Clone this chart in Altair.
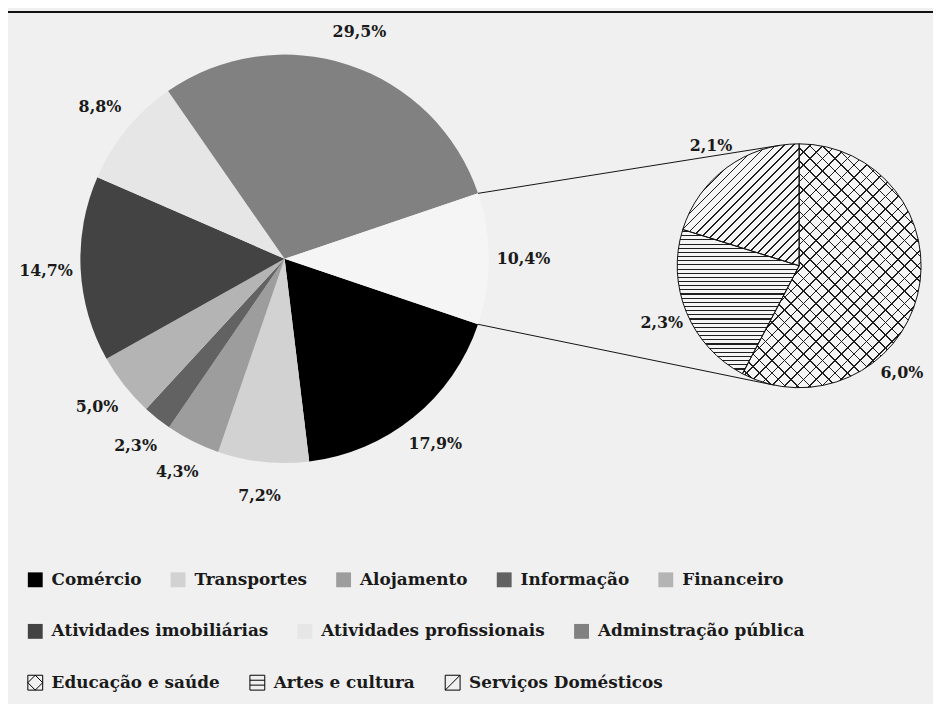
import math
import altair as alt
import pandas as pd

W, H = 933, 696
FONT = "DejaVu Serif"
TXT = "#1a1a1a"

# ---------------- data ----------------
main_sectors = ["Outros serviços", "Comércio", "Transportes", "Alojamento", "Informação",
                "Financeiro", "Atividades imobiliárias", "Atividades profissionais",
                "Adminstração pública"]
main_values = [10.4, 17.9, 7.2, 4.3, 2.3, 5.0, 14.7, 8.8, 29.5]
main_colors = ["#f5f5f5", "#000000", "#d2d2d2", "#9d9d9d", "#626262", "#b4b4b4",
               "#434343", "#e6e6e6", "#818181"]
legend_row1 = main_sectors[1:6]
legend_row2 = main_sectors[6:9]

sub_sectors = ["Educação e saúde", "Artes e cultura", "Serviços Domésticos"]
sub_values = [6.0, 2.3, 2.1]
sub_shapes = [
    "M-1,-1H1V1H-1Z M0,-1L1,0L0,1L-1,0Z",
    "M-1,-1H1V1H-1Z M-1,-0.33H1 M-1,0.33H1",
    "M-1,-1H1V1H-1Z M-1,1L1,-1",
]

# ---------------- geometry (style) ----------------
MCX, MCY, MR = 279, 250, 206
SCX, SCY, SR = 798, 257, 123
MAIN_LABEL_R = 241
SUB_LABEL_R = 150
TWO_PI = 2 * math.pi


def fmt(v):
    return f"{v:.1f}".replace(".", ",") + "%"


total = sum(main_values)
a0 = math.pi / 2 - math.pi * main_values[0] / total

main_df = pd.DataFrame({"sector": main_sectors, "value": main_values})
main_df["end"] = main_df["value"].cumsum()
main_df["start"] = main_df["end"] - main_df["value"]
main_df["mid"] = (main_df["start"] + main_df["end"]) / 2
main_df["label"] = main_df["value"].map(fmt)

sub_total = sum(sub_values)
sub_df = pd.DataFrame({"sector": sub_sectors, "value": sub_values})
sub_df["end"] = sub_df["value"].cumsum()
sub_df["start"] = sub_df["end"] - sub_df["value"]
sub_df["mid"] = (sub_df["start"] + sub_df["end"]) / 2
sub_df["label"] = sub_df["value"].map(fmt)


def sub_ang(t):
    return TWO_PI * t / sub_total


# label angle: mid angle, moved along the slice if the label would leave the chart
xmax = W - 31
lab_t = []
for s, e, m in zip(sub_df["start"], sub_df["end"], sub_df["mid"]):
    t = m
    for i in range(401):
        tt = m + (e - m) * i / 400
        if SCX + SUB_LABEL_R * math.sin(sub_ang(tt)) <= xmax:
            t = tt
            break
    lab_t.append(t)
sub_df["labpos"] = lab_t

theta_main = alt.Scale(domain=[0, total], range=[a0, a0 + TWO_PI])
theta_sub = alt.Scale(domain=[0, sub_total], range=[0, TWO_PI])


def sector_bbox(t1, t2, r):
    pts = [(0.0, 0.0), (r * math.sin(t1), -r * math.cos(t1)), (r * math.sin(t2), -r * math.cos(t2))]
    for c in [0, math.pi / 2, math.pi, 1.5 * math.pi, TWO_PI]:
        if t1 <= c <= t2:
            pts.append((r * math.sin(c), -r * math.cos(c)))
    xs = [p[0] for p in pts]
    ys = [p[1] for p in pts]
    return max(xs) - min(xs), max(ys) - min(ys)


def hatch(bbox, kind, spacing, lw, bg, fg="#1e1e1e"):
    w, h = bbox
    if kind == "h":
        x1, y1, x2, y2 = 0, 0, 0, 1
        L = h
    else:
        k = 1 / max(w, h)
        dx, dy = w * k, h * k
        if kind == "slash":
            x1, y1, x2, y2 = 0, 0, dx, dy
        else:
            x1, y1, x2, y2 = 0, 1, dx, 1 - dy
        L = k * (w * w + h * h) / math.sqrt(2)
    hw = lw / 2 / L
    stops = [alt.GradientStop(offset=0, color=bg)]
    p = spacing / 2
    while True:
        tc = p / L
        if tc + hw >= 1:
            break
        for off, col in [(tc - hw, bg), (tc - hw, fg), (tc + hw, fg), (tc + hw, bg)]:
            stops.append(alt.GradientStop(offset=round(off, 5), color=col))
        p += spacing
    stops.append(alt.GradientStop(offset=1, color=bg))
    return alt.LinearGradient(gradient="linear", stops=stops, x1=x1, y1=y1, x2=x2, y2=y2)


def legend(domain_len, ly, symbol=True):
    kw = dict(orient="none", legendX=19, legendY=ly, direction="horizontal",
              columns=domain_len, symbolSize=225, labelFont=FONT, labelFontSize=17,
              labelFontWeight="bold", labelColor=TXT, labelOffset=8, columnPadding=28,
              title=None, labelLimit=0, padding=0)
    if symbol:
        kw.update(symbolType="square", symbolStrokeWidth=0)
    else:
        kw.update(symbolStrokeWidth=1, symbolStrokeColor="black", symbolFillColor="transparent")
    return alt.Legend(**kw)


layers = []

# top rule
layers.append(alt.Chart(pd.DataFrame({"k": [0]})).mark_rule(color="#111111", strokeWidth=2).encode(
    x=alt.value(0), x2=alt.value(W), y=alt.value(1)))

# main pie
col1 = main_colors[1:6]
col2 = main_colors[6:9]
for subset, rng, ly in [(legend_row1, col1, 565), (legend_row2, col2, 617)]:
    layers.append(
        alt.Chart(main_df)
        .transform_filter(alt.FieldOneOfPredicate(field="sector", oneOf=subset))
        .mark_arc(outerRadius=MR)
        .encode(
            theta=alt.Theta("start:Q", scale=theta_main, stack=None),
            theta2="end:Q",
            color=alt.Color("sector:N", scale=alt.Scale(domain=subset, range=rng),
                            legend=legend(len(subset), ly)),
            x=alt.value(MCX), y=alt.value(MCY),
        )
    )
layers.append(
    alt.Chart(main_df)
    .transform_filter(alt.FieldEqualPredicate(field="sector", equal=main_sectors[0]))
    .mark_arc(outerRadius=MR, fill=main_colors[0])
    .encode(theta=alt.Theta("start:Q", scale=theta_main, stack=None), theta2="end:Q",
            x=alt.value(MCX), y=alt.value(MCY))
)
layers.append(
    alt.Chart(main_df)
    .mark_text(font=FONT, fontSize=16, fontWeight="bold", color=TXT)
    .encode(theta=alt.Theta("mid:Q", scale=theta_main, stack=None), radius=alt.value(MAIN_LABEL_R),
            text="label:N", x=alt.value(MCX), y=alt.value(MCY))
)

# legend 3 carrier (hidden under the small pie)
layers.append(
    alt.Chart(sub_df)
    .mark_point(filled=False, size=1, color="black", opacity=1, strokeWidth=1)
    .encode(x=alt.value(SCX), y=alt.value(SCY),
            shape=alt.Shape("sector:N", scale=alt.Scale(domain=sub_sectors, range=sub_shapes),
                            legend=legend(3, 669, symbol=False)))
)

# small pie base
layers.append(
    alt.Chart(sub_df).mark_arc(outerRadius=SR, fill="#f5f5f5")
    .encode(theta=alt.Theta("start:Q", scale=theta_sub, stack=None), theta2="end:Q",
            x=alt.value(SCX), y=alt.value(SCY))
)

# hatching
hatch_spec = {
    sub_sectors[0]: [("slash", 9.0), ("back", 9.0)],
    sub_sectors[1]: [("h", 4.2)],
    sub_sectors[2]: [("slash", 6.4)],
}
for sec, s, e in zip(sub_df["sector"], sub_df["start"], sub_df["end"]):
    bb = sector_bbox(sub_ang(s), sub_ang(e), SR)
    for kind, sp in hatch_spec[sec]:
        grad = hatch(bb, kind, sp, 1.1, "rgba(0,0,0,0)")
        layers.append(
            alt.Chart(sub_df)
            .transform_filter(alt.FieldEqualPredicate(field="sector", equal=sec))
            .mark_arc(outerRadius=SR, fill=grad)
            .encode(theta=alt.Theta("start:Q", scale=theta_sub, stack=None), theta2="end:Q",
                    x=alt.value(SCX), y=alt.value(SCY))
        )

# small pie outline
layers.append(
    alt.Chart(sub_df).mark_arc(outerRadius=SR, fillOpacity=0, stroke="#111111", strokeWidth=1)
    .encode(theta=alt.Theta("start:Q", scale=theta_sub, stack=None), theta2="end:Q",
            x=alt.value(SCX), y=alt.value(SCY))
)
layers.append(
    alt.Chart(sub_df)
    .mark_text(font=FONT, fontSize=16, fontWeight="bold", color=TXT)
    .encode(theta=alt.Theta("labpos:Q", scale=theta_sub, stack=None), radius=alt.value(SUB_LABEL_R),
            text="label:N", x=alt.value(SCX), y=alt.value(SCY))
)


# connector lines (tangents from the split slice edges to the small pie)
def tangent(px, py, upper):
    dx, dy = px - SCX, py - SCY
    d = math.hypot(dx, dy)
    ux, uy = dx / d, dy / d
    al = math.acos(SR / d)
    cands = []
    for sgn in (1, -1):
        ca, sa = math.cos(sgn * al), math.sin(sgn * al)
        cands.append((SCX + SR * (ux * ca - uy * sa), SCY + SR * (ux * sa + uy * ca)))
    return min(cands, key=lambda p: p[1]) if upper else max(cands, key=lambda p: p[1])


conn = []
for ang, upper in [(a0, True), (a0 + TWO_PI * main_values[0] / total, False)]:
    px, py = MCX + MR * math.sin(ang), MCY - MR * math.cos(ang)
    tx, ty = tangent(px, py, upper)
    conn.append({"x": px, "y": py, "x2": tx, "y2": ty})
conn_df = pd.DataFrame(conn)
layers.append(
    alt.Chart(conn_df).mark_rule(color="#111111", strokeWidth=1).encode(
        x=alt.X("x:Q", scale=None), y=alt.Y("y:Q", scale=None),
        x2="x2:Q", y2="y2:Q")
)

chart = (
    alt.layer(*layers)
    .resolve_scale(color="independent", theta="independent", shape="independent")
    .properties(width=W, height=H, background="#f0f0f0", padding=0, autosize="none")
    .configure_view(stroke=None)
)

chart.save("out.html", embed_options={"renderer": "svg", "actions": False})
